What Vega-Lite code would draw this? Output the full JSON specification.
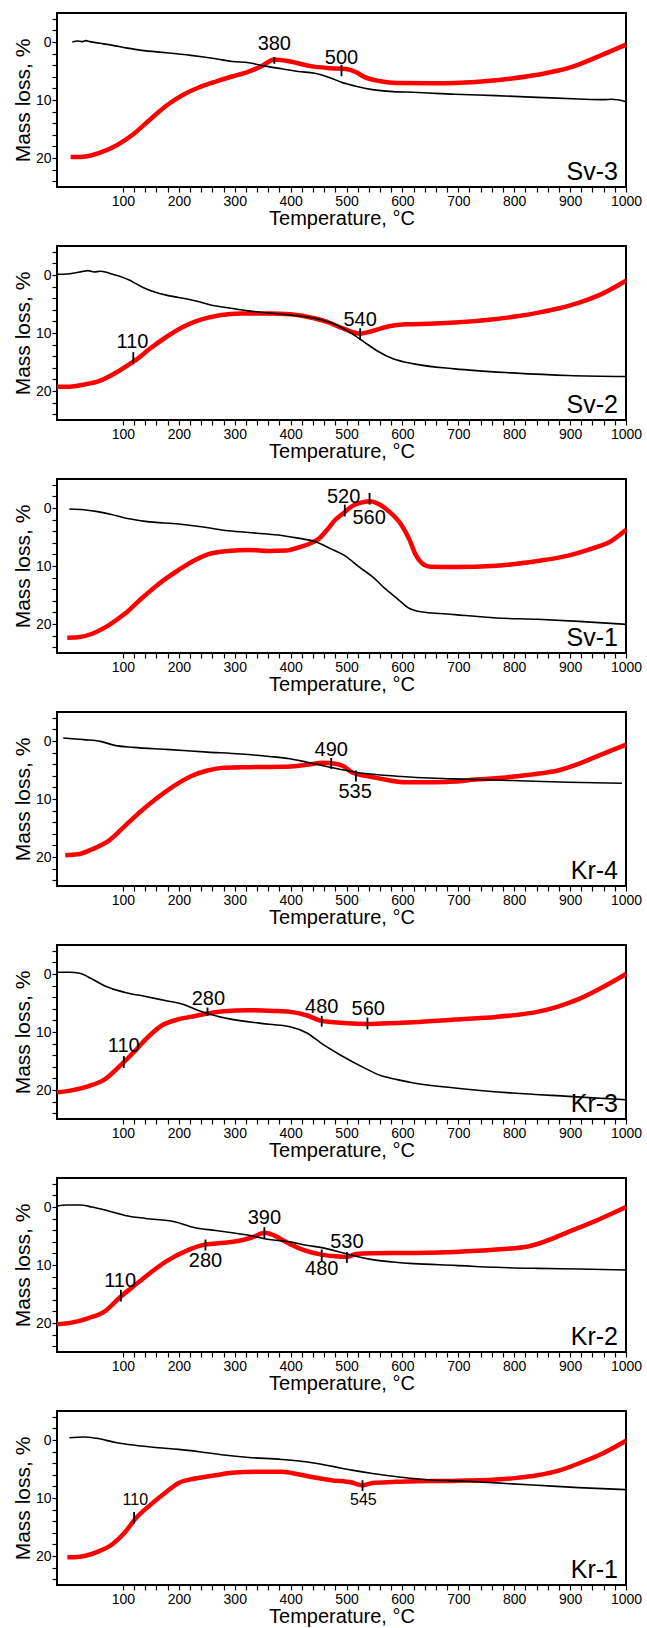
{
"$schema":"https://vega.github.io/schema/vega-lite/v6.json",
"padding":{"left":11,"top":10,"right":5,"bottom":0},
"data":{"values":[
{"s":"Sv-3","k":"TG","t":9.3,"y":0},{"s":"Sv-3","k":"TG","t":18.9,"y":-0.17},{"s":"Sv-3","k":"TG","t":26.3,"y":-0.06},{"s":"Sv-3","k":"TG","t":33.7,"y":-0.23},{"s":"Sv-3","k":"TG","t":41,"y":-0.06},{"s":"Sv-3","k":"TG","t":48.4,"y":0.06},{"s":"Sv-3","k":"TG","t":59.4,"y":0.23},{"s":"Sv-3","k":"TG","t":81.6,"y":0.58},{"s":"Sv-3","k":"TG","t":103.7,"y":0.98},{"s":"Sv-3","k":"TG","t":133.2,"y":1.45},{"s":"Sv-3","k":"TG","t":177.5,"y":1.85},{"s":"Sv-3","k":"TG","t":221.8,"y":2.31},{"s":"Sv-3","k":"TG","t":266,"y":2.89},{"s":"Sv-3","k":"TG","t":295.5,"y":3.35},{"s":"Sv-3","k":"TG","t":325,"y":3.58},{"s":"Sv-3","k":"TG","t":354.5,"y":4.16},{"s":"Sv-3","k":"TG","t":384,"y":4.62},{"s":"Sv-3","k":"TG","t":413.6,"y":5.09},{"s":"Sv-3","k":"TG","t":443,"y":5.38},{"s":"Sv-3","k":"TG","t":472.6,"y":6.24},{"s":"Sv-3","k":"TG","t":491,"y":6.94},{"s":"Sv-3","k":"TG","t":516.8,"y":7.63},{"s":"Sv-3","k":"TG","t":546.3,"y":8.21},{"s":"Sv-3","k":"TG","t":583.1,"y":8.55},{"s":"Sv-3","k":"TG","t":620.1,"y":8.67},{"s":"Sv-3","k":"TG","t":693.8,"y":9.02},{"s":"Sv-3","k":"TG","t":767.6,"y":9.25},{"s":"Sv-3","k":"TG","t":841.4,"y":9.54},{"s":"Sv-3","k":"TG","t":915.2,"y":9.83},{"s":"Sv-3","k":"TG","t":959.4,"y":9.94},{"s":"Sv-3","k":"TG","t":974.2,"y":9.88},{"s":"Sv-3","k":"TG","t":1000,"y":10.29},
{"s":"Sv-3","k":"DTA","t":6.4,"y":19.83},{"s":"Sv-3","k":"DTA","t":30,"y":19.77},{"s":"Sv-3","k":"DTA","t":59.4,"y":19.08},{"s":"Sv-3","k":"DTA","t":89,"y":17.8},{"s":"Sv-3","k":"DTA","t":118.5,"y":15.9},{"s":"Sv-3","k":"DTA","t":148,"y":13.41},{"s":"Sv-3","k":"DTA","t":177.5,"y":10.98},{"s":"Sv-3","k":"DTA","t":207,"y":9.13},{"s":"Sv-3","k":"DTA","t":236.5,"y":7.8},{"s":"Sv-3","k":"DTA","t":266,"y":6.82},{"s":"Sv-3","k":"DTA","t":295.5,"y":5.95},{"s":"Sv-3","k":"DTA","t":325,"y":5.09},{"s":"Sv-3","k":"DTA","t":347.2,"y":4.22},{"s":"Sv-3","k":"DTA","t":370.8,"y":3.01},{"s":"Sv-3","k":"DTA","t":398.8,"y":3.35},{"s":"Sv-3","k":"DTA","t":435.6,"y":4.16},{"s":"Sv-3","k":"DTA","t":472.6,"y":4.51},{"s":"Sv-3","k":"DTA","t":502,"y":4.68},{"s":"Sv-3","k":"DTA","t":516.8,"y":5.2},{"s":"Sv-3","k":"DTA","t":531.6,"y":6.01},{"s":"Sv-3","k":"DTA","t":561.1,"y":6.76},{"s":"Sv-3","k":"DTA","t":590.6,"y":7.05},{"s":"Sv-3","k":"DTA","t":657,"y":7.11},{"s":"Sv-3","k":"DTA","t":693.8,"y":7.05},{"s":"Sv-3","k":"DTA","t":767.6,"y":6.59},{"s":"Sv-3","k":"DTA","t":841.4,"y":5.66},{"s":"Sv-3","k":"DTA","t":900.4,"y":4.39},{"s":"Sv-3","k":"DTA","t":952,"y":2.43},{"s":"Sv-3","k":"DTA","t":1000,"y":0.46},
{"s":"Sv-2","k":"TG","t":-18,"y":-0.12},{"s":"Sv-2","k":"TG","t":0.4,"y":-0.17},{"s":"Sv-2","k":"TG","t":15.2,"y":-0.4},{"s":"Sv-2","k":"TG","t":26.2,"y":-0.58},{"s":"Sv-2","k":"TG","t":37.3,"y":-0.75},{"s":"Sv-2","k":"TG","t":48.4,"y":-0.52},{"s":"Sv-2","k":"TG","t":59.5,"y":-0.64},{"s":"Sv-2","k":"TG","t":70.6,"y":-0.46},{"s":"Sv-2","k":"TG","t":81.5,"y":-0.12},{"s":"Sv-2","k":"TG","t":96.4,"y":0.29},{"s":"Sv-2","k":"TG","t":111.1,"y":0.87},{"s":"Sv-2","k":"TG","t":122.2,"y":1.45},{"s":"Sv-2","k":"TG","t":137,"y":2.2},{"s":"Sv-2","k":"TG","t":155.4,"y":2.89},{"s":"Sv-2","k":"TG","t":177.5,"y":3.47},{"s":"Sv-2","k":"TG","t":199.6,"y":3.87},{"s":"Sv-2","k":"TG","t":229.1,"y":4.45},{"s":"Sv-2","k":"TG","t":258.7,"y":5.2},{"s":"Sv-2","k":"TG","t":284.5,"y":5.61},{"s":"Sv-2","k":"TG","t":325.1,"y":6.18},{"s":"Sv-2","k":"TG","t":384,"y":6.76},{"s":"Sv-2","k":"TG","t":428.3,"y":7.23},{"s":"Sv-2","k":"TG","t":457.9,"y":7.8},{"s":"Sv-2","k":"TG","t":483.6,"y":8.67},{"s":"Sv-2","k":"TG","t":509.4,"y":10.12},{"s":"Sv-2","k":"TG","t":531.6,"y":11.56},{"s":"Sv-2","k":"TG","t":553.8,"y":13.01},{"s":"Sv-2","k":"TG","t":583.2,"y":14.45},{"s":"Sv-2","k":"TG","t":620.2,"y":15.32},{"s":"Sv-2","k":"TG","t":693.9,"y":16.18},{"s":"Sv-2","k":"TG","t":797.2,"y":16.88},{"s":"Sv-2","k":"TG","t":896.7,"y":17.34},{"s":"Sv-2","k":"TG","t":1000,"y":17.51},
{"s":"Sv-2","k":"DTA","t":-18,"y":19.25},{"s":"Sv-2","k":"DTA","t":4.2,"y":19.25},{"s":"Sv-2","k":"DTA","t":30,"y":18.9},{"s":"Sv-2","k":"DTA","t":59.5,"y":18.21},{"s":"Sv-2","k":"DTA","t":89,"y":16.76},{"s":"Sv-2","k":"DTA","t":117.1,"y":15.03},{"s":"Sv-2","k":"DTA","t":125.9,"y":14.45},{"s":"Sv-2","k":"DTA","t":147.9,"y":12.72},{"s":"Sv-2","k":"DTA","t":177.5,"y":10.69},{"s":"Sv-2","k":"DTA","t":207,"y":8.96},{"s":"Sv-2","k":"DTA","t":236.5,"y":7.8},{"s":"Sv-2","k":"DTA","t":273.4,"y":6.94},{"s":"Sv-2","k":"DTA","t":310.3,"y":6.65},{"s":"Sv-2","k":"DTA","t":361.9,"y":6.65},{"s":"Sv-2","k":"DTA","t":398.8,"y":6.76},{"s":"Sv-2","k":"DTA","t":435.7,"y":7.34},{"s":"Sv-2","k":"DTA","t":465.2,"y":8.09},{"s":"Sv-2","k":"DTA","t":494.7,"y":9.25},{"s":"Sv-2","k":"DTA","t":524.3,"y":10.12},{"s":"Sv-2","k":"DTA","t":546.3,"y":9.65},{"s":"Sv-2","k":"DTA","t":575.8,"y":8.84},{"s":"Sv-2","k":"DTA","t":605.4,"y":8.5},{"s":"Sv-2","k":"DTA","t":657,"y":8.38},{"s":"Sv-2","k":"DTA","t":693.9,"y":8.21},{"s":"Sv-2","k":"DTA","t":767.7,"y":7.57},{"s":"Sv-2","k":"DTA","t":804.5,"y":7.11},{"s":"Sv-2","k":"DTA","t":841.4,"y":6.53},{"s":"Sv-2","k":"DTA","t":878.3,"y":5.78},{"s":"Sv-2","k":"DTA","t":915.2,"y":4.8},{"s":"Sv-2","k":"DTA","t":952,"y":3.47},{"s":"Sv-2","k":"DTA","t":1000,"y":0.98},
{"s":"Sv-1","k":"TG","t":4.2,"y":0.17},{"s":"Sv-1","k":"TG","t":30,"y":0.29},{"s":"Sv-1","k":"TG","t":52.1,"y":0.58},{"s":"Sv-1","k":"TG","t":81.5,"y":1.16},{"s":"Sv-1","k":"TG","t":103.7,"y":1.73},{"s":"Sv-1","k":"TG","t":140.6,"y":2.31},{"s":"Sv-1","k":"TG","t":199.6,"y":2.77},{"s":"Sv-1","k":"TG","t":236.5,"y":3.18},{"s":"Sv-1","k":"TG","t":288.2,"y":3.93},{"s":"Sv-1","k":"TG","t":339.8,"y":4.34},{"s":"Sv-1","k":"TG","t":384,"y":4.74},{"s":"Sv-1","k":"TG","t":413.5,"y":5.2},{"s":"Sv-1","k":"TG","t":443,"y":5.78},{"s":"Sv-1","k":"TG","t":472.6,"y":7.05},{"s":"Sv-1","k":"TG","t":494.7,"y":8.09},{"s":"Sv-1","k":"TG","t":524.3,"y":10.29},{"s":"Sv-1","k":"TG","t":546.3,"y":11.85},{"s":"Sv-1","k":"TG","t":568.5,"y":13.87},{"s":"Sv-1","k":"TG","t":590.6,"y":15.61},{"s":"Sv-1","k":"TG","t":612.7,"y":17.34},{"s":"Sv-1","k":"TG","t":627.5,"y":17.8},{"s":"Sv-1","k":"TG","t":693.9,"y":18.38},{"s":"Sv-1","k":"TG","t":767.7,"y":18.96},{"s":"Sv-1","k":"TG","t":841.4,"y":19.19},{"s":"Sv-1","k":"TG","t":915.2,"y":19.54},{"s":"Sv-1","k":"TG","t":1000,"y":20.06},
{"s":"Sv-1","k":"DTA","t":0.4,"y":22.37},{"s":"Sv-1","k":"DTA","t":22.6,"y":22.25},{"s":"Sv-1","k":"DTA","t":44.7,"y":21.68},{"s":"Sv-1","k":"DTA","t":74.2,"y":20.23},{"s":"Sv-1","k":"DTA","t":103.7,"y":18.21},{"s":"Sv-1","k":"DTA","t":133.2,"y":15.61},{"s":"Sv-1","k":"DTA","t":162.8,"y":13.18},{"s":"Sv-1","k":"DTA","t":199.6,"y":10.69},{"s":"Sv-1","k":"DTA","t":229.1,"y":8.96},{"s":"Sv-1","k":"DTA","t":258.7,"y":7.8},{"s":"Sv-1","k":"DTA","t":288.2,"y":7.4},{"s":"Sv-1","k":"DTA","t":325.1,"y":7.23},{"s":"Sv-1","k":"DTA","t":361.9,"y":7.4},{"s":"Sv-1","k":"DTA","t":391.5,"y":7.34},{"s":"Sv-1","k":"DTA","t":413.5,"y":6.82},{"s":"Sv-1","k":"DTA","t":435.7,"y":6.07},{"s":"Sv-1","k":"DTA","t":450.4,"y":5.32},{"s":"Sv-1","k":"DTA","t":465.2,"y":3.76},{"s":"Sv-1","k":"DTA","t":479.9,"y":2.02},{"s":"Sv-1","k":"DTA","t":494.7,"y":0.87},{"s":"Sv-1","k":"DTA","t":509.4,"y":-0.29},{"s":"Sv-1","k":"DTA","t":524.3,"y":-0.87},{"s":"Sv-1","k":"DTA","t":541.2,"y":-1.16},{"s":"Sv-1","k":"DTA","t":557.4,"y":-0.69},{"s":"Sv-1","k":"DTA","t":575.8,"y":0.58},{"s":"Sv-1","k":"DTA","t":598,"y":2.89},{"s":"Sv-1","k":"DTA","t":612.7,"y":5.49},{"s":"Sv-1","k":"DTA","t":623.8,"y":8.09},{"s":"Sv-1","k":"DTA","t":634.9,"y":9.54},{"s":"Sv-1","k":"DTA","t":649.6,"y":10.12},{"s":"Sv-1","k":"DTA","t":693.9,"y":10.17},{"s":"Sv-1","k":"DTA","t":767.7,"y":9.94},{"s":"Sv-1","k":"DTA","t":841.4,"y":9.13},{"s":"Sv-1","k":"DTA","t":896.7,"y":8.21},{"s":"Sv-1","k":"DTA","t":937.3,"y":7.05},{"s":"Sv-1","k":"DTA","t":974.2,"y":5.66},{"s":"Sv-1","k":"DTA","t":1000,"y":3.76},
{"s":"Kr-4","k":"TG","t":-6.9,"y":-0.52},{"s":"Kr-4","k":"TG","t":29.9,"y":-0.23},{"s":"Kr-4","k":"TG","t":59.5,"y":0.06},{"s":"Kr-4","k":"TG","t":85.3,"y":0.75},{"s":"Kr-4","k":"TG","t":118.4,"y":1.1},{"s":"Kr-4","k":"TG","t":177.5,"y":1.45},{"s":"Kr-4","k":"TG","t":251.3,"y":1.91},{"s":"Kr-4","k":"TG","t":310.3,"y":2.25},{"s":"Kr-4","k":"TG","t":361.9,"y":2.66},{"s":"Kr-4","k":"TG","t":398.8,"y":3.06},{"s":"Kr-4","k":"TG","t":428.3,"y":3.64},{"s":"Kr-4","k":"TG","t":472.6,"y":4.57},{"s":"Kr-4","k":"TG","t":516.8,"y":5.38},{"s":"Kr-4","k":"TG","t":590.6,"y":6.07},{"s":"Kr-4","k":"TG","t":693.9,"y":6.53},{"s":"Kr-4","k":"TG","t":797.2,"y":6.82},{"s":"Kr-4","k":"TG","t":896.7,"y":7.11},{"s":"Kr-4","k":"TG","t":992.7,"y":7.28},
{"s":"Kr-4","k":"DTA","t":-3.2,"y":19.71},{"s":"Kr-4","k":"DTA","t":18.9,"y":19.54},{"s":"Kr-4","k":"DTA","t":44.7,"y":18.67},{"s":"Kr-4","k":"DTA","t":74.2,"y":17.23},{"s":"Kr-4","k":"DTA","t":103.7,"y":14.62},{"s":"Kr-4","k":"DTA","t":133.2,"y":12.02},{"s":"Kr-4","k":"DTA","t":162.8,"y":9.71},{"s":"Kr-4","k":"DTA","t":192.2,"y":7.69},{"s":"Kr-4","k":"DTA","t":221.7,"y":6.07},{"s":"Kr-4","k":"DTA","t":251.3,"y":5.09},{"s":"Kr-4","k":"DTA","t":280.8,"y":4.62},{"s":"Kr-4","k":"DTA","t":325,"y":4.51},{"s":"Kr-4","k":"DTA","t":384,"y":4.45},{"s":"Kr-4","k":"DTA","t":428.3,"y":4.1},{"s":"Kr-4","k":"DTA","t":457.9,"y":3.76},{"s":"Kr-4","k":"DTA","t":480,"y":3.93},{"s":"Kr-4","k":"DTA","t":494.7,"y":4.34},{"s":"Kr-4","k":"DTA","t":509.5,"y":5.38},{"s":"Kr-4","k":"DTA","t":524.2,"y":5.84},{"s":"Kr-4","k":"DTA","t":538.9,"y":6.07},{"s":"Kr-4","k":"DTA","t":568.5,"y":6.65},{"s":"Kr-4","k":"DTA","t":605.4,"y":7.11},{"s":"Kr-4","k":"DTA","t":657,"y":7.11},{"s":"Kr-4","k":"DTA","t":693.9,"y":6.99},{"s":"Kr-4","k":"DTA","t":730.8,"y":6.65},{"s":"Kr-4","k":"DTA","t":767.6,"y":6.42},{"s":"Kr-4","k":"DTA","t":804.5,"y":6.07},{"s":"Kr-4","k":"DTA","t":841.4,"y":5.66},{"s":"Kr-4","k":"DTA","t":878.3,"y":5.09},{"s":"Kr-4","k":"DTA","t":915.2,"y":3.93},{"s":"Kr-4","k":"DTA","t":952.1,"y":2.49},{"s":"Kr-4","k":"DTA","t":1000,"y":0.64},
{"s":"Kr-3","k":"TG","t":-18,"y":-0.29},{"s":"Kr-3","k":"TG","t":4.2,"y":-0.29},{"s":"Kr-3","k":"TG","t":22.6,"y":-0.12},{"s":"Kr-3","k":"TG","t":44.7,"y":0.87},{"s":"Kr-3","k":"TG","t":66.8,"y":2.02},{"s":"Kr-3","k":"TG","t":103.8,"y":3.18},{"s":"Kr-3","k":"TG","t":140.6,"y":3.87},{"s":"Kr-3","k":"TG","t":177.5,"y":4.62},{"s":"Kr-3","k":"TG","t":207,"y":5.2},{"s":"Kr-3","k":"TG","t":229.1,"y":6.07},{"s":"Kr-3","k":"TG","t":251.3,"y":6.82},{"s":"Kr-3","k":"TG","t":288.1,"y":7.69},{"s":"Kr-3","k":"TG","t":361.9,"y":8.67},{"s":"Kr-3","k":"TG","t":398.8,"y":9.08},{"s":"Kr-3","k":"TG","t":428.3,"y":10.12},{"s":"Kr-3","k":"TG","t":457.8,"y":12.14},{"s":"Kr-3","k":"TG","t":487.3,"y":13.87},{"s":"Kr-3","k":"TG","t":531.6,"y":16.18},{"s":"Kr-3","k":"TG","t":561.1,"y":17.51},{"s":"Kr-3","k":"TG","t":590.6,"y":18.21},{"s":"Kr-3","k":"TG","t":620.1,"y":18.79},{"s":"Kr-3","k":"TG","t":693.9,"y":19.65},{"s":"Kr-3","k":"TG","t":797.1,"y":20.52},{"s":"Kr-3","k":"TG","t":896.7,"y":21.1},{"s":"Kr-3","k":"TG","t":1000,"y":21.68},
{"s":"Kr-3","k":"DTA","t":-18,"y":20.4},{"s":"Kr-3","k":"DTA","t":7.8,"y":20.06},{"s":"Kr-3","k":"DTA","t":37.4,"y":19.36},{"s":"Kr-3","k":"DTA","t":66.8,"y":18.21},{"s":"Kr-3","k":"DTA","t":101.5,"y":15.2},{"s":"Kr-3","k":"DTA","t":118.5,"y":13.58},{"s":"Kr-3","k":"DTA","t":140.6,"y":11.27},{"s":"Kr-3","k":"DTA","t":170.2,"y":8.84},{"s":"Kr-3","k":"DTA","t":199.6,"y":7.8},{"s":"Kr-3","k":"DTA","t":229.1,"y":7.23},{"s":"Kr-3","k":"DTA","t":251.3,"y":6.82},{"s":"Kr-3","k":"DTA","t":280.8,"y":6.42},{"s":"Kr-3","k":"DTA","t":325,"y":6.24},{"s":"Kr-3","k":"DTA","t":369.2,"y":6.36},{"s":"Kr-3","k":"DTA","t":398.8,"y":6.53},{"s":"Kr-3","k":"DTA","t":428.3,"y":7.11},{"s":"Kr-3","k":"DTA","t":455.6,"y":8.09},{"s":"Kr-3","k":"DTA","t":472.5,"y":8.27},{"s":"Kr-3","k":"DTA","t":502,"y":8.5},{"s":"Kr-3","k":"DTA","t":537.4,"y":8.61},{"s":"Kr-3","k":"DTA","t":561.1,"y":8.55},{"s":"Kr-3","k":"DTA","t":620.1,"y":8.32},{"s":"Kr-3","k":"DTA","t":693.9,"y":7.86},{"s":"Kr-3","k":"DTA","t":767.6,"y":7.4},{"s":"Kr-3","k":"DTA","t":804.5,"y":7.05},{"s":"Kr-3","k":"DTA","t":841.4,"y":6.53},{"s":"Kr-3","k":"DTA","t":878.3,"y":5.61},{"s":"Kr-3","k":"DTA","t":915.2,"y":4.34},{"s":"Kr-3","k":"DTA","t":952.1,"y":2.6},{"s":"Kr-3","k":"DTA","t":1000,"y":0},
{"s":"Kr-2","k":"TG","t":-18,"y":-0.17},{"s":"Kr-2","k":"TG","t":0.4,"y":-0.35},{"s":"Kr-2","k":"TG","t":22.6,"y":-0.35},{"s":"Kr-2","k":"TG","t":44.7,"y":0},{"s":"Kr-2","k":"TG","t":74.2,"y":0.69},{"s":"Kr-2","k":"TG","t":103.8,"y":1.45},{"s":"Kr-2","k":"TG","t":140.6,"y":1.97},{"s":"Kr-2","k":"TG","t":192.3,"y":2.54},{"s":"Kr-2","k":"TG","t":229.1,"y":3.58},{"s":"Kr-2","k":"TG","t":266,"y":4.05},{"s":"Kr-2","k":"TG","t":325,"y":4.86},{"s":"Kr-2","k":"TG","t":361.9,"y":5.61},{"s":"Kr-2","k":"TG","t":398.8,"y":6.01},{"s":"Kr-2","k":"TG","t":428.3,"y":6.59},{"s":"Kr-2","k":"TG","t":457.8,"y":7.05},{"s":"Kr-2","k":"TG","t":487.4,"y":7.75},{"s":"Kr-2","k":"TG","t":516.8,"y":8.5},{"s":"Kr-2","k":"TG","t":546.3,"y":9.08},{"s":"Kr-2","k":"TG","t":583.2,"y":9.48},{"s":"Kr-2","k":"TG","t":620.1,"y":9.77},{"s":"Kr-2","k":"TG","t":693.9,"y":10.06},{"s":"Kr-2","k":"TG","t":767.7,"y":10.4},{"s":"Kr-2","k":"TG","t":841.5,"y":10.58},{"s":"Kr-2","k":"TG","t":915.2,"y":10.69},{"s":"Kr-2","k":"TG","t":1000,"y":10.87},
{"s":"Kr-2","k":"DTA","t":-18,"y":20.23},{"s":"Kr-2","k":"DTA","t":7.8,"y":19.94},{"s":"Kr-2","k":"DTA","t":37.3,"y":19.19},{"s":"Kr-2","k":"DTA","t":66.9,"y":18.03},{"s":"Kr-2","k":"DTA","t":96.3,"y":15.43},{"s":"Kr-2","k":"DTA","t":118.5,"y":13.7},{"s":"Kr-2","k":"DTA","t":140.6,"y":11.97},{"s":"Kr-2","k":"DTA","t":177.5,"y":9.36},{"s":"Kr-2","k":"DTA","t":214.3,"y":7.51},{"s":"Kr-2","k":"DTA","t":247.6,"y":6.47},{"s":"Kr-2","k":"DTA","t":280.8,"y":6.18},{"s":"Kr-2","k":"DTA","t":310.3,"y":5.78},{"s":"Kr-2","k":"DTA","t":332.5,"y":5.2},{"s":"Kr-2","k":"DTA","t":353,"y":4.45},{"s":"Kr-2","k":"DTA","t":369.3,"y":4.86},{"s":"Kr-2","k":"DTA","t":391.4,"y":6.01},{"s":"Kr-2","k":"DTA","t":421,"y":7.34},{"s":"Kr-2","k":"DTA","t":455.6,"y":8.21},{"s":"Kr-2","k":"DTA","t":479.9,"y":8.5},{"s":"Kr-2","k":"DTA","t":500.6,"y":8.61},{"s":"Kr-2","k":"DTA","t":516.8,"y":8.09},{"s":"Kr-2","k":"DTA","t":546.3,"y":7.98},{"s":"Kr-2","k":"DTA","t":620.1,"y":7.92},{"s":"Kr-2","k":"DTA","t":693.9,"y":7.75},{"s":"Kr-2","k":"DTA","t":767.7,"y":7.34},{"s":"Kr-2","k":"DTA","t":826.6,"y":6.76},{"s":"Kr-2","k":"DTA","t":856.2,"y":5.9},{"s":"Kr-2","k":"DTA","t":900.4,"y":4.16},{"s":"Kr-2","k":"DTA","t":944.7,"y":2.43},{"s":"Kr-2","k":"DTA","t":1000,"y":0},
{"s":"Kr-1","k":"TG","t":4.1,"y":-0.4},{"s":"Kr-1","k":"TG","t":29.9,"y":-0.52},{"s":"Kr-1","k":"TG","t":52.1,"y":-0.29},{"s":"Kr-1","k":"TG","t":89,"y":0.46},{"s":"Kr-1","k":"TG","t":118.4,"y":0.87},{"s":"Kr-1","k":"TG","t":162.8,"y":1.33},{"s":"Kr-1","k":"TG","t":199.6,"y":1.62},{"s":"Kr-1","k":"TG","t":236.5,"y":2.02},{"s":"Kr-1","k":"TG","t":280.8,"y":2.6},{"s":"Kr-1","k":"TG","t":325,"y":3.01},{"s":"Kr-1","k":"TG","t":384,"y":3.35},{"s":"Kr-1","k":"TG","t":435.7,"y":3.87},{"s":"Kr-1","k":"TG","t":472.6,"y":4.51},{"s":"Kr-1","k":"TG","t":509.5,"y":5.2},{"s":"Kr-1","k":"TG","t":546.4,"y":5.78},{"s":"Kr-1","k":"TG","t":583.3,"y":6.24},{"s":"Kr-1","k":"TG","t":620.1,"y":6.65},{"s":"Kr-1","k":"TG","t":657,"y":6.94},{"s":"Kr-1","k":"TG","t":693.9,"y":7.05},{"s":"Kr-1","k":"TG","t":767.6,"y":7.4},{"s":"Kr-1","k":"TG","t":841.4,"y":7.8},{"s":"Kr-1","k":"TG","t":915.2,"y":8.21},{"s":"Kr-1","k":"TG","t":1000,"y":8.55},
{"s":"Kr-1","k":"DTA","t":0.5,"y":20.23},{"s":"Kr-1","k":"DTA","t":22.6,"y":20.12},{"s":"Kr-1","k":"DTA","t":52.1,"y":19.36},{"s":"Kr-1","k":"DTA","t":81.6,"y":17.92},{"s":"Kr-1","k":"DTA","t":103.7,"y":15.9},{"s":"Kr-1","k":"DTA","t":122.2,"y":13.58},{"s":"Kr-1","k":"DTA","t":148,"y":11.27},{"s":"Kr-1","k":"DTA","t":177.5,"y":8.96},{"s":"Kr-1","k":"DTA","t":199.6,"y":7.4},{"s":"Kr-1","k":"DTA","t":229.2,"y":6.65},{"s":"Kr-1","k":"DTA","t":266,"y":6.07},{"s":"Kr-1","k":"DTA","t":295.5,"y":5.66},{"s":"Kr-1","k":"DTA","t":339.8,"y":5.49},{"s":"Kr-1","k":"DTA","t":384,"y":5.49},{"s":"Kr-1","k":"DTA","t":413.5,"y":5.9},{"s":"Kr-1","k":"DTA","t":443.1,"y":6.47},{"s":"Kr-1","k":"DTA","t":472.6,"y":6.94},{"s":"Kr-1","k":"DTA","t":509.5,"y":7.34},{"s":"Kr-1","k":"DTA","t":528.7,"y":7.8},{"s":"Kr-1","k":"DTA","t":546.4,"y":7.4},{"s":"Kr-1","k":"DTA","t":583.3,"y":7.23},{"s":"Kr-1","k":"DTA","t":620.1,"y":7.11},{"s":"Kr-1","k":"DTA","t":693.9,"y":7.05},{"s":"Kr-1","k":"DTA","t":767.6,"y":6.82},{"s":"Kr-1","k":"DTA","t":804.5,"y":6.53},{"s":"Kr-1","k":"DTA","t":841.4,"y":6.07},{"s":"Kr-1","k":"DTA","t":878.3,"y":5.32},{"s":"Kr-1","k":"DTA","t":915.2,"y":4.05},{"s":"Kr-1","k":"DTA","t":952.1,"y":2.6},{"s":"Kr-1","k":"DTA","t":1000,"y":0.12},
{"s":"Sv-3","k":"tick","t":370.8,"y":2.6,"y2":3.76},{"s":"Sv-3","k":"tick","t":491,"y":3.93,"y2":5.9},{"s":"Sv-2","k":"tick","t":118.5,"y":13.3,"y2":15.3},{"s":"Sv-2","k":"tick","t":524.3,"y":9.2,"y2":11.2},{"s":"Sv-1","k":"tick","t":496.9,"y":-0.58,"y2":1.45},{"s":"Sv-1","k":"tick","t":541.2,"y":-2.6,"y2":-0.58},{"s":"Kr-4","k":"tick","t":472.6,"y":2.95,"y2":4.8},{"s":"Kr-4","k":"tick","t":516.8,"y":5.09,"y2":6.99},{"s":"Kr-3","k":"tick","t":101.5,"y":14.16,"y2":16.18},{"s":"Kr-3","k":"tick","t":251.3,"y":5.78,"y2":7.23},{"s":"Kr-3","k":"tick","t":455.6,"y":7.23,"y2":9.08},{"s":"Kr-3","k":"tick","t":537.4,"y":7.51,"y2":9.54},{"s":"Kr-2","k":"tick","t":96.3,"y":14.28,"y2":16.3},{"s":"Kr-2","k":"tick","t":247.6,"y":5.61,"y2":7.51},{"s":"Kr-2","k":"tick","t":353,"y":3.47,"y2":5.43},{"s":"Kr-2","k":"tick","t":455.6,"y":7.34,"y2":9.36},{"s":"Kr-2","k":"tick","t":500.6,"y":7.75,"y2":9.65},{"s":"Kr-1","k":"tick","t":119.9,"y":12.43,"y2":14.45},{"s":"Kr-1","k":"tick","t":528.6,"y":6.94,"y2":8.79},
{"s":"Sv-3","k":"label","t":370.8,"y":0.43,"label":"380"},{"s":"Sv-3","k":"label","t":491,"y":2.77,"label":"500"},{"s":"Sv-2","k":"label","t":117.1,"y":11.56,"label":"110"},{"s":"Sv-2","k":"label","t":524.3,"y":7.69,"label":"540"},{"s":"Sv-1","k":"label","t":494.7,"y":-1.85,"label":"520"},{"s":"Sv-1","k":"label","t":540.4,"y":1.73,"label":"560"},{"s":"Kr-4","k":"label","t":472.6,"y":1.5,"label":"490"},{"s":"Kr-4","k":"label","t":515.4,"y":8.84,"label":"535"},{"s":"Kr-3","k":"label","t":101.5,"y":12.37,"label":"110"},{"s":"Kr-3","k":"label","t":252.8,"y":4.34,"label":"280"},{"s":"Kr-3","k":"label","t":455.6,"y":5.61,"label":"480"},{"s":"Kr-3","k":"label","t":538.9,"y":6.01,"label":"560"},{"s":"Kr-2","k":"label","t":94.9,"y":12.83,"label":"110"},{"s":"Kr-2","k":"label","t":247.6,"y":9.36,"label":"280"},{"s":"Kr-2","k":"label","t":353,"y":1.85,"label":"390"},{"s":"Kr-2","k":"label","t":455.6,"y":10.64,"label":"480"},{"s":"Kr-2","k":"label","t":500.6,"y":6.07,"label":"530"},{"s":"Kr-1","k":"label","t":122.2,"y":10.29,"label":"110"},{"s":"Kr-1","k":"label","t":530.1,"y":10.4,"label":"545"},
{"s":"Sv-3","k":"name"},{"s":"Sv-2","k":"name"},{"s":"Sv-1","k":"name"},{"s":"Kr-4","k":"name"},{"s":"Kr-3","k":"name"},{"s":"Kr-2","k":"name"},{"s":"Kr-1","k":"name"}
]},
"facet":{"row":{"field":"s","type":"nominal","sort":["Sv-3","Sv-2","Sv-1","Kr-4","Kr-3","Kr-2","Kr-1"],"header":null}},
"spacing":{"row":14},
"resolve":{"axis":{"x":"independent","y":"independent"}},
"spec":{"width":569,"height":174,"layer":[
{"transform":[{"filter":"datum.k === 'DTA'"}],"mark":{"type":"line","color":"#ff0000","strokeWidth":4.5,"interpolate":"monotone"},
"encoding":{"x":{"field":"t","type":"quantitative","scale":{"domain":[-18,1000],"nice":false,"zero":false},"axis":{"title":"Temperature, °C","values":[100,120,140,160,180,200,220,240,260,280,300,320,340,360,380,400,420,440,460,480,500,520,540,560,580,600,620,640,660,680,700,720,740,760,780,800,820,840,860,880,900,920,940,960,980,1000],"labelExpr":"datum.value % 100 === 0 ? '' + datum.value : ''"}},"y":{"field":"y","type":"quantitative","scale":{"domain":[-5,25],"reverse":true,"nice":false,"zero":false},"axis":{"title":"Mass loss, %","values":[-4,-2,0,2,4,6,8,10,12,14,16,18,20,22,24],"labelExpr":"datum.value % 10 === 0 ? '' + datum.value : ''"}}}},
{"transform":[{"filter":"datum.k === 'TG'"}],"mark":{"type":"line","color":"#000000","strokeWidth":1.6,"interpolate":"monotone"},
"encoding":{"x":{"field":"t","type":"quantitative","scale":{"domain":[-18,1000],"nice":false,"zero":false},"axis":{"title":"Temperature, °C","values":[100,120,140,160,180,200,220,240,260,280,300,320,340,360,380,400,420,440,460,480,500,520,540,560,580,600,620,640,660,680,700,720,740,760,780,800,820,840,860,880,900,920,940,960,980,1000],"labelExpr":"datum.value % 100 === 0 ? '' + datum.value : ''"}},"y":{"field":"y","type":"quantitative","scale":{"domain":[-5,25],"reverse":true,"nice":false,"zero":false},"axis":{"title":"Mass loss, %","values":[-4,-2,0,2,4,6,8,10,12,14,16,18,20,22,24],"labelExpr":"datum.value % 10 === 0 ? '' + datum.value : ''"}}}},
{"transform":[{"filter":"datum.k === 'tick'"}],"mark":{"type":"rule","color":"#000000","strokeWidth":1.8},
"encoding":{"x":{"field":"t","type":"quantitative","scale":{"domain":[-18,1000],"nice":false,"zero":false},"axis":{"title":"Temperature, °C","values":[100,120,140,160,180,200,220,240,260,280,300,320,340,360,380,400,420,440,460,480,500,520,540,560,580,600,620,640,660,680,700,720,740,760,780,800,820,840,860,880,900,920,940,960,980,1000],"labelExpr":"datum.value % 100 === 0 ? '' + datum.value : ''"}},"y":{"field":"y","type":"quantitative","scale":{"domain":[-5,25],"reverse":true,"nice":false,"zero":false},"axis":{"title":"Mass loss, %","values":[-4,-2,0,2,4,6,8,10,12,14,16,18,20,22,24],"labelExpr":"datum.value % 10 === 0 ? '' + datum.value : ''"}},"y2":{"field":"y2"}}},
{"transform":[{"filter":"datum.k === 'label'"}],"mark":{"type":"text","baseline":"middle","color":"#000000"},
"encoding":{"x":{"field":"t","type":"quantitative","scale":{"domain":[-18,1000],"nice":false,"zero":false},"axis":{"title":"Temperature, °C","values":[100,120,140,160,180,200,220,240,260,280,300,320,340,360,380,400,420,440,460,480,500,520,540,560,580,600,620,640,660,680,700,720,740,760,780,800,820,840,860,880,900,920,940,960,980,1000],"labelExpr":"datum.value % 100 === 0 ? '' + datum.value : ''"}},"y":{"field":"y","type":"quantitative","scale":{"domain":[-5,25],"reverse":true,"nice":false,"zero":false},"axis":{"title":"Mass loss, %","values":[-4,-2,0,2,4,6,8,10,12,14,16,18,20,22,24],"labelExpr":"datum.value % 10 === 0 ? '' + datum.value : ''"}},"text":{"field":"label"},"size":{"condition":{"test":"datum.s === 'Kr-1'","value":16},"value":20}}},
{"transform":[{"filter":"datum.k === 'name'"}],"mark":{"type":"text","fontSize":25,"align":"right","baseline":"alphabetic","dx":-8,"dy":-7,"color":"#000000"},
"encoding":{"x":{"datum":1000,"type":"quantitative","scale":{"domain":[-18,1000],"nice":false,"zero":false},"axis":{"title":"Temperature, °C","values":[100,120,140,160,180,200,220,240,260,280,300,320,340,360,380,400,420,440,460,480,500,520,540,560,580,600,620,640,660,680,700,720,740,760,780,800,820,840,860,880,900,920,940,960,980,1000],"labelExpr":"datum.value % 100 === 0 ? '' + datum.value : ''"}},"y":{"datum":25,"type":"quantitative","scale":{"domain":[-5,25],"reverse":true,"nice":false,"zero":false},"axis":{"title":"Mass loss, %","values":[-4,-2,0,2,4,6,8,10,12,14,16,18,20,22,24],"labelExpr":"datum.value % 10 === 0 ? '' + datum.value : ''"}},"text":{"field":"s"}}}
]},
"config":{
"font":"Liberation Sans",
"view":{"stroke":"#000000","strokeWidth":2},
"axis":{"domain":false,"grid":false,"tickColor":"#000000","tickWidth":1.2,"tickSize":5,"labelColor":"#000000","titleColor":"#000000","labelFontSize":14,"titleFontSize":20,"titleFontWeight":"normal","labelFont":"Liberation Sans","titleFont":"Liberation Sans","labelOverlap":false},
"axisX":{"labelPadding":2,"titlePadding":0,"labelFlush":false},
"axisY":{"labelPadding":1,"titlePadding":2,"titleFontSize":21}
}
}
